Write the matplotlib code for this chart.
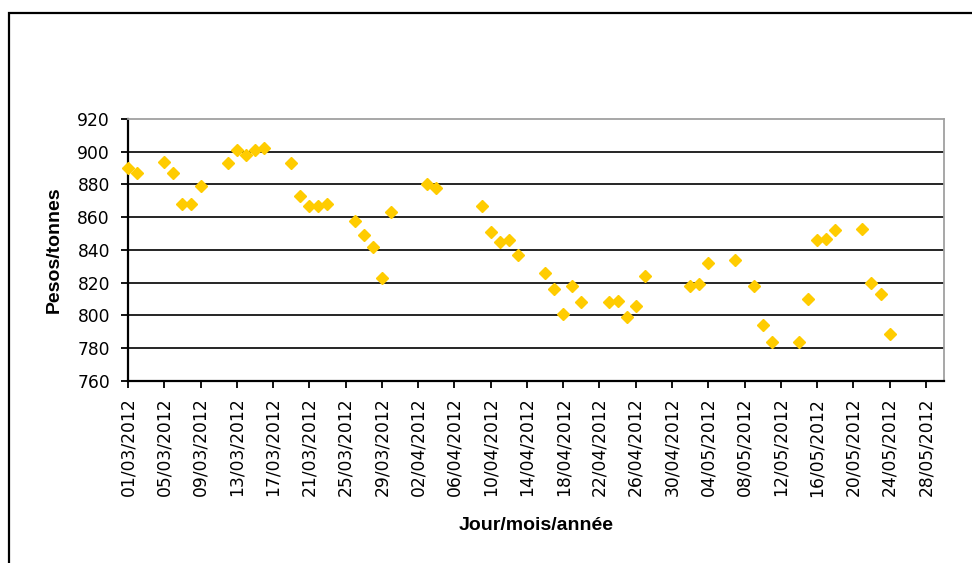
import matplotlib
matplotlib.use("Agg")
import matplotlib.pyplot as plt
import matplotlib.dates as mdates
from matplotlib.patches import Rectangle
import pandas as pd

# Daily weight readings (tonnes)
dates = [
    "01/03/2012", "02/03/2012", "05/03/2012", "06/03/2012", "07/03/2012",
    "08/03/2012", "09/03/2012", "12/03/2012", "13/03/2012", "14/03/2012",
    "15/03/2012", "16/03/2012", "19/03/2012", "20/03/2012", "21/03/2012",
    "22/03/2012", "23/03/2012", "26/03/2012", "27/03/2012", "28/03/2012",
    "29/03/2012", "30/03/2012", "03/04/2012", "04/04/2012", "09/04/2012",
    "10/04/2012", "11/04/2012", "12/04/2012", "13/04/2012", "16/04/2012",
    "17/04/2012", "18/04/2012", "19/04/2012", "20/04/2012", "23/04/2012",
    "24/04/2012", "25/04/2012", "26/04/2012", "27/04/2012", "02/05/2012",
    "03/05/2012", "04/05/2012", "07/05/2012", "09/05/2012", "10/05/2012",
    "11/05/2012", "14/05/2012", "15/05/2012", "16/05/2012", "17/05/2012",
    "18/05/2012", "21/05/2012", "22/05/2012", "23/05/2012", "24/05/2012",
]
weights = [
    890, 887, 894, 887, 868,
    868, 879, 893, 901, 898,
    901, 902, 893, 873, 867,
    867, 868, 858, 849, 842,
    823, 863, 880, 878, 867,
    851, 845, 846, 837, 826,
    816, 801, 818, 808, 808,
    809, 799, 806, 824, 818,
    819, 832, 834, 818, 794,
    784, 784, 810, 846, 847,
    852, 853, 820, 813, 789,
]

x_start = "01/03/2012"
x_end = "30/05/2012"
x_last_tick = "28/05/2012"
tick_step_days = 4
y_ticks = [760, 780, 800, 820, 840, 860, 880, 900, 920]

xlabel = "Jour/mois/année"
ylabel = "Pesos/tonnes"

plt.rcParams["font.family"] = ["Liberation Sans", "DejaVu Sans"]

x = pd.to_datetime(dates, dayfirst=True)
t0 = pd.to_datetime(x_start, dayfirst=True)
t1 = pd.to_datetime(x_end, dayfirst=True)
tick_dates = pd.date_range(t0, pd.to_datetime(x_last_tick, dayfirst=True),
                           freq=f"{tick_step_days}D")

fig = plt.figure(figsize=(9.72, 5.63), dpi=100)
fig.patch.set_facecolor("white")

# outer chart frame
fig.patches.append(Rectangle((9 / 972, -0.05), 1.2, 1 - 13 / 563 + 0.05,
                             transform=fig.transFigure, fill=False,
                             edgecolor="black", linewidth=1.6, zorder=0))

ax = fig.add_axes([128 / 972, 1 - 381 / 563, (944 - 128) / 972, (381 - 119) / 563])

ax.plot(x, weights, linestyle="none", marker="D", markersize=6.5,
        color="#FFCC00", markeredgecolor="#FFCC00", clip_on=False, zorder=5)

ax.set_xlim(t0, t1)
ax.set_ylim(y_ticks[0], y_ticks[-1])
ax.set_yticks(y_ticks)
ax.set_xticks(tick_dates)
ax.xaxis.set_major_formatter(mdates.DateFormatter("%d/%m/%Y"))
ax.tick_params(axis="x", rotation=90, length=5, width=1.3, pad=7, color="black")
ax.tick_params(axis="y", length=5, width=1.3, pad=8, color="black")
for lbl in ax.get_xticklabels() + ax.get_yticklabels():
    lbl.set_fontfamily(["DejaVu Sans"])
    lbl.set_fontsize(12.3)

for v in y_ticks[1:-1]:
    ax.axhline(v, color="black", linewidth=1.2, zorder=1)

ax.spines["left"].set_color("black")
ax.spines["left"].set_linewidth(1.6)
ax.spines["bottom"].set_color("black")
ax.spines["bottom"].set_linewidth(1.6)
ax.spines["top"].set_color("#a0a0a0")
ax.spines["top"].set_linewidth(1.3)
ax.spines["right"].set_color("#a0a0a0")
ax.spines["right"].set_linewidth(1.3)

ax.set_ylabel(ylabel, fontsize=14, fontweight="bold")
ax.yaxis.set_label_coords(-0.0797, 0.5)
ax.set_xlabel(xlabel, fontsize=14, fontweight="bold")
ax.xaxis.set_label_coords(0.5, -0.519)

fig.savefig("out.png", dpi=100)
